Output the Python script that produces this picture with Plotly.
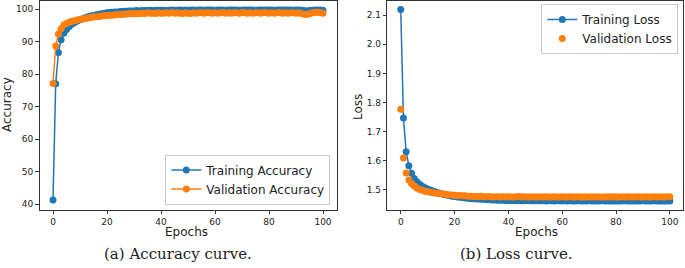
import plotly.graph_objects as go

epochs = list(range(101))

train_acc = [41.3, 77.1, 86.7, 90.6, 92.6, 93.8, 94.7, 95.4, 95.9, 96.4,
             96.8, 97.1, 97.4, 97.7, 97.9, 98.1, 98.3, 98.5, 98.6, 98.8,
             98.9, 99.0, 99.1, 99.2, 99.2, 99.3, 99.4, 99.4, 99.5, 99.5,
             99.5, 99.6, 99.5, 99.6, 99.6, 99.6, 99.7, 99.6, 99.7, 99.7,
             99.7, 99.7, 99.6, 99.7, 99.8, 99.7, 99.7, 99.8, 99.7, 99.8,
             99.7, 99.8, 99.8, 99.7, 99.8, 99.8, 99.7, 99.8, 99.8, 99.8,
             99.7, 99.8, 99.8, 99.8, 99.7, 99.8, 99.8, 99.8, 99.8, 99.7,
             99.8, 99.8, 99.8, 99.8, 99.8, 99.7, 99.8, 99.8, 99.8, 99.8,
             99.8, 99.8, 99.7, 99.8, 99.8, 99.8, 99.8, 99.8, 99.8, 99.7,
             99.8, 99.8, 99.7, 99.6, 99.5, 99.6, 99.7, 99.8, 99.8, 99.8,
             99.7]

val_acc = [77.2, 88.7, 92.4, 94.0, 95.2, 95.6, 96.0, 96.3, 96.5, 96.7,
           96.9, 97.0, 97.2, 97.3, 97.5, 97.6, 97.7, 97.8, 97.9, 98.0,
           98.1, 98.2, 98.2, 98.3, 98.4, 98.4, 98.5, 98.5, 98.6, 98.6,
           98.7, 98.6, 98.7, 98.8, 98.7, 98.9, 98.8, 98.8, 98.7, 98.9,
           98.8, 98.8, 98.9, 98.8, 99.0, 98.8, 98.9, 98.8, 98.7, 98.9,
           98.8, 98.7, 98.9, 98.8, 98.9, 98.9, 98.8, 99.0, 98.9, 98.8,
           98.9, 98.8, 98.9, 99.0, 98.8, 98.9, 98.8, 98.9, 98.9, 98.8,
           99.0, 98.9, 98.8, 98.9, 98.8, 98.9, 98.9, 98.8, 99.0, 98.9,
           98.8, 98.9, 98.8, 98.9, 99.0, 98.8, 98.9, 98.8, 98.9, 98.9,
           98.8, 98.9, 98.7, 98.5, 98.4, 98.6, 98.9, 99.0, 99.1, 98.9,
           98.8]

train_loss = [2.120, 1.746, 1.630, 1.582, 1.556, 1.538, 1.527, 1.518, 1.511, 1.506,
              1.502, 1.498, 1.494, 1.491, 1.488, 1.486, 1.483, 1.481, 1.479, 1.477,
              1.476, 1.474, 1.473, 1.472, 1.471, 1.470, 1.469, 1.468, 1.467, 1.467,
              1.466, 1.466, 1.465, 1.465, 1.464, 1.464, 1.463, 1.463, 1.463, 1.462,
              1.462, 1.462, 1.462, 1.461, 1.462, 1.461, 1.461, 1.462, 1.461, 1.461,
              1.461, 1.461, 1.461, 1.461, 1.460, 1.461, 1.461, 1.460, 1.461, 1.461,
              1.460, 1.461, 1.460, 1.461, 1.460, 1.460, 1.461, 1.460, 1.460, 1.460,
              1.461, 1.460, 1.460, 1.460, 1.460, 1.461, 1.460, 1.460, 1.460, 1.460,
              1.460, 1.460, 1.460, 1.461, 1.460, 1.460, 1.460, 1.460, 1.460, 1.460,
              1.461, 1.460, 1.460, 1.460, 1.461, 1.460, 1.460, 1.460, 1.460, 1.460,
              1.460]

val_loss = [1.776, 1.608, 1.557, 1.533, 1.521, 1.512, 1.505, 1.500, 1.497, 1.494,
            1.492, 1.490, 1.489, 1.487, 1.486, 1.485, 1.484, 1.483, 1.482, 1.481,
            1.480, 1.479, 1.479, 1.478, 1.478, 1.477, 1.477, 1.476, 1.476, 1.476,
            1.477, 1.475, 1.475, 1.476, 1.474, 1.475, 1.475, 1.474, 1.475, 1.474,
            1.475, 1.474, 1.474, 1.475, 1.476, 1.474, 1.475, 1.474, 1.474, 1.475,
            1.474, 1.474, 1.475, 1.474, 1.475, 1.474, 1.474, 1.475, 1.474, 1.474,
            1.475, 1.474, 1.474, 1.475, 1.474, 1.474, 1.475, 1.474, 1.474, 1.474,
            1.475, 1.474, 1.474, 1.475, 1.474, 1.474, 1.474, 1.475, 1.474, 1.475,
            1.474, 1.474, 1.475, 1.474, 1.474, 1.475, 1.474, 1.474, 1.475, 1.474,
            1.474, 1.475, 1.474, 1.474, 1.475, 1.474, 1.475, 1.474, 1.474, 1.475,
            1.475]

acc_ticks = [40, 50, 60, 70, 80, 90, 100]
loss_ticks = [1.5, 1.6, 1.7, 1.8, 1.9, 2.0, 2.1]
epoch_ticks = [0, 20, 40, 60, 80, 100]

BLUE = "#1f77b4"
ORANGE = "#ff7f0e"
W, H = 685, 268
FONT = "DejaVu Sans"
MS = 7

fig = go.Figure()
fig.add_trace(go.Scatter(x=epochs, y=train_acc, mode="lines+markers", name="Training Accuracy",
                         line=dict(color=BLUE, width=1.5), marker=dict(color=BLUE, size=MS),
                         xaxis="x", yaxis="y", legend="legend"))
fig.add_trace(go.Scatter(x=epochs, y=val_acc, mode="lines+markers", name="Validation Accuracy",
                         line=dict(color=ORANGE, width=1.5), marker=dict(color=ORANGE, size=MS),
                         xaxis="x", yaxis="y", legend="legend"))
fig.add_trace(go.Scatter(x=epochs, y=train_loss, mode="lines+markers", name="Training Loss",
                         line=dict(color=BLUE, width=1.5), marker=dict(color=BLUE, size=MS),
                         xaxis="x2", yaxis="y2", legend="legend2"))
fig.add_trace(go.Scatter(x=epochs, y=val_loss, mode="markers", name="Validation Loss",
                         marker=dict(color=ORANGE, size=MS),
                         xaxis="x2", yaxis="y2", legend="legend2"))

ydom = [(H - 209.5) / H, (H - 0.5) / H]
axis_common = dict(showline=True, mirror=True, linecolor="#333333", linewidth=1,
                   ticks="outside", ticklen=3.5, tickcolor="#333333", tickwidth=0.8,
                   showgrid=False, zeroline=False, tickfont=dict(family=FONT, size=9, color="#222222"))

fig.update_layout(
    width=W, height=H, margin=dict(l=0, r=0, t=0, b=0),
    paper_bgcolor="white", plot_bgcolor="white",
    font=dict(family=FONT, color="#222222"),
    xaxis=dict(domain=[39.5 / W, 336.5 / W], range=[-5, 105], tickvals=epoch_ticks, anchor="y", **axis_common),
    yaxis=dict(domain=ydom, range=[38.4, 102.7], tickvals=acc_ticks, anchor="x", **axis_common),
    xaxis2=dict(domain=[387.3 / W, 683.3 / W], range=[-5, 105], tickvals=epoch_ticks, anchor="y2", **axis_common),
    yaxis2=dict(domain=ydom, range=[1.431, 2.151], tickvals=loss_ticks, ticktext=[f"{v:.1f}" for v in loss_ticks],
                anchor="x2", **axis_common),
    legend=dict(x=330.3 / W, y=1 - 204.5 / H, xanchor="right", yanchor="bottom",
                bgcolor="rgba(255,255,255,0.8)", bordercolor="#cccccc", borderwidth=1,
                font=dict(family=FONT, size=12, color="#222222")),
    legend2=dict(x=678.3 / W, y=1 - 4 / H, xanchor="right", yanchor="top",
                 bgcolor="rgba(255,255,255,0.8)", bordercolor="#cccccc", borderwidth=1,
                 font=dict(family=FONT, size=12, color="#222222")),
    showlegend=True,
)

def ann(text, x, y, size, family=FONT, angle=0):
    fig.add_annotation(text=text, x=x / W, y=1 - y / H, xref="paper", yref="paper",
                       showarrow=False, textangle=angle, xanchor="center", yanchor="middle",
                       font=dict(family=family, size=size, color="#222222"))

ann("Accuracy", 7, 105, 12, angle=-90)
ann("Loss", 358, 107, 12, angle=-90)
ann("Epochs", 187, 232, 12)
ann("Epochs", 536, 232, 12)
ann("(a) Accuracy curve.", 178, 254, 15, family="DejaVu Serif")
ann("(b) Loss curve.", 516, 254, 15, family="DejaVu Serif")

fig.write_html("out.html", config={"displayModeBar": False},
               post_script="document.body.style.margin='0';document.body.style.overflow='hidden';")
